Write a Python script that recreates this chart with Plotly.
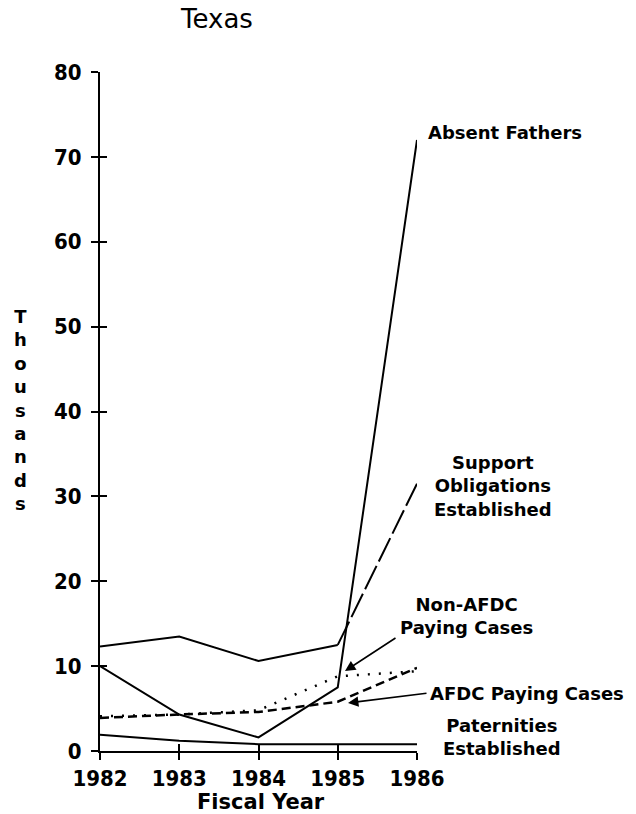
import plotly.graph_objects as go

years = [1982, 1983, 1984, 1985, 1986]
absent_fathers = [10.0, 4.3, 1.6, 7.5, 72.0]
support_obligations = [12.3, 13.5, 10.6, 12.5, 31.5]
non_afdc_paying = [4.1, 4.3, 4.8, 8.8, 9.4]
afdc_paying = [3.9, 4.3, 4.6, 5.8, 9.8]
paternities = [1.9, 1.2, 0.8, 0.8, 0.8]

y_ticks = [0, 10, 20, 30, 40, 50, 60, 70, 80]

FONT = "DejaVu Sans Condensed, DejaVu Sans"
LAB = "DejaVu Sans"

# screen layout of the plot area
PX0, PX1, PY0, PY1 = 100, 417, 72, 751
W, H = 636, 814


def px(x):
    return (x - PX0) / (PX1 - PX0)


def py(y):
    return (PY1 - y) / (PY1 - PY0)


fig = go.Figure()


def line(x, y, dash="solid", width=2):
    fig.add_trace(go.Scatter(x=x, y=y, mode="lines",
                             line=dict(color="black", width=width, dash=dash),
                             showlegend=False, hoverinfo="skip"))


line(years, absent_fathers)
line(years[:4], support_obligations[:4])
line(years[3:], support_obligations[3:], dash="26px,5px")
line(years, non_afdc_paying, dash="2px,9px", width=2.5)
line(years, afdc_paying, dash="9px,5px", width=2.5)
line(years, paternities)

font_lab = dict(family=LAB, size=18, color="black")

labels = [
    ("<b>Absent Fathers</b>", 426, 132, "left"),
    ("<b>Support<br>Obligations<br>Established</b>", 493, 486, "center"),
    ("<b>Non-AFDC<br>Paying Cases</b>", 467, 616, "center"),
    ("<b>AFDC Paying Cases</b>", 428, 693, "left"),
    ("<b>Paternities<br>Established</b>", 502, 737, "center"),
]
for text, x, y, xa in labels:
    fig.add_annotation(xref="paper", yref="paper", x=px(x), y=py(y), text=text,
                       xanchor=xa, yanchor="middle", showarrow=False,
                       font=font_lab, align="center")

# arrows
fig.add_annotation(xref="paper", yref="paper", x=px(345), y=py(671), ax=52, ay=-34,
                   text="", showarrow=True, arrowhead=2, arrowsize=1.3,
                   arrowwidth=1.6, arrowcolor="black")
fig.add_annotation(xref="paper", yref="paper", x=px(348), y=py(703), ax=80, ay=-10,
                   text="", showarrow=True, arrowhead=2, arrowsize=1.3,
                   arrowwidth=1.6, arrowcolor="black")

# Titles
fig.add_annotation(xref="paper", yref="paper", x=px(216), y=py(19),
                   text="Texas", showarrow=False, xanchor="center", yanchor="middle",
                   font=dict(family=LAB, size=26, color="black"))
fig.add_annotation(xref="paper", yref="paper", x=px(261), y=py(802),
                   text="<b>Fiscal Year</b>", showarrow=False, xanchor="center", yanchor="middle",
                   font=dict(family=LAB, size=21, color="black"))
fig.add_annotation(xref="paper", yref="paper", x=px(20), y=py(410),
                   text="<b>" + "<br>".join(list("Thousands")) + "</b>", showarrow=False,
                   xanchor="center", yanchor="middle", align="center",
                   font=dict(family=LAB, size=18, color="black"))

axis_common = dict(showgrid=False, zeroline=False, showline=True, linecolor="black",
                   linewidth=2, ticks="outside", ticklen=7, tickwidth=2, tickcolor="black",
                   tickfont=dict(family=FONT, size=22, color="black"))

fig.update_layout(
    width=W, height=H,
    margin=dict(l=PX0, r=W - PX1, t=PY0, b=H - PY1, autoexpand=False),
    paper_bgcolor="white", plot_bgcolor="white",
    xaxis=dict(range=[1982, 1986], tickvals=years, ticktext=[f"<b>{y}</b>" for y in years], **axis_common),
    yaxis=dict(range=[0, 80], tickvals=y_ticks, ticktext=[f"<b>{v}</b>" for v in y_ticks],
               ticklabelstandoff=5, **axis_common),
    xaxis2=dict(overlaying="x", matches="x", range=[1982, 1986], tickvals=years, ticks="inside",
                ticklen=7, tickwidth=2, tickcolor="black", showticklabels=False, showgrid=False,
                zeroline=False, side="bottom", anchor="y"),
    yaxis2=dict(overlaying="y", matches="y", range=[0, 80], tickvals=y_ticks, ticks="inside",
                ticklen=7, tickwidth=2, tickcolor="black", showticklabels=False, showgrid=False,
                zeroline=False, side="left", anchor="x"),
)
fig.add_trace(go.Scatter(x=[1982], y=[0], xaxis="x2", yaxis="y2", mode="markers",
                         marker=dict(opacity=0), showlegend=False, hoverinfo="skip"))

fig.write_html("out.html", config={"displayModeBar": False},
               post_script="document.body.style.margin='0';")
